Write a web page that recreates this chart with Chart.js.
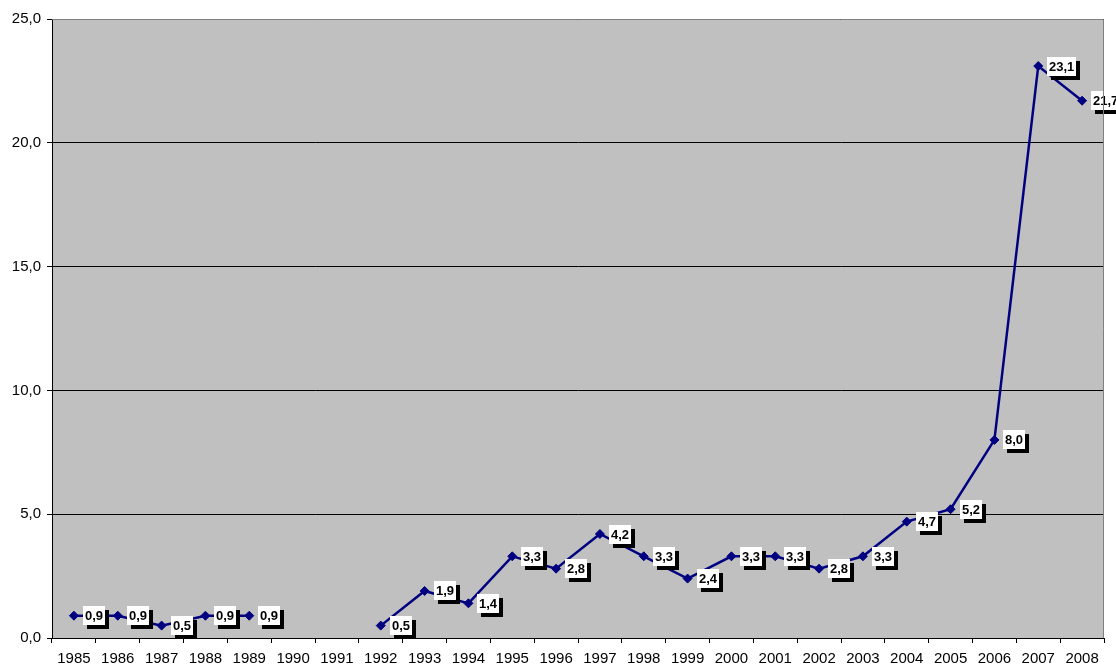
<!DOCTYPE html>
<html>
<head>
<meta charset="utf-8">
<script src="https://cdn.jsdelivr.net/npm/chart.js@4/dist/chart.umd.min.js"></script>
<style>
  html, body { margin: 0; padding: 0; background: #fff; }
  #wrap { width: 1116px; height: 667px; }
</style>
</head>
<body>
<div id="wrap"><canvas id="chart"></canvas></div>
<script>
// years and values (1990/1991 have no data)
const years = ["1985", "1986", "1987", "1988", "1989", "1990", "1991", "1992", "1993", "1994",
  "1995", "1996", "1997", "1998", "1999", "2000", "2001", "2002", "2003", "2004",
  "2005", "2006", "2007", "2008"];
const values = [0.9, 0.9, 0.5, 0.9, 0.9, null, null, 0.5, 1.9, 1.4,
  3.3, 2.8, 4.2, 3.3, 2.4, 3.3, 3.3, 2.8, 3.3, 4.7,
  5.2, 8.0, 23.1, 21.7];
const yTicks = [0, 5, 10, 15, 20, 25];

const fmt = (v) => v.toFixed(1).replace(".", ",");
const FONT = "Arial, 'Liberation Sans', sans-serif";

// grey plot area like the old spreadsheet charts
const plotBg = {
  id: "plotBg",
  beforeDraw(chart) {
    const { ctx, chartArea: a } = chart;
    ctx.save();
    ctx.fillStyle = "#c0c0c0";
    ctx.fillRect(a.left, a.top, a.right - a.left, a.bottom - a.top);
    ctx.restore();
  },
  afterDraw(chart) {
    const { ctx, chartArea: a } = chart;
    ctx.save();
    ctx.strokeStyle = "#808080";
    ctx.lineWidth = 1;
    ctx.beginPath();
    ctx.moveTo(a.left, a.top + 0.5);
    ctx.lineTo(a.right - 0.5, a.top + 0.5);
    ctx.lineTo(a.right - 0.5, a.bottom);
    ctx.stroke();
    ctx.restore();
  },
};

// value boxes with a black drop shadow to the right of each point
const boxLabels = {
  id: "boxLabels",
  afterDatasetsDraw(chart) {
    const { ctx } = chart;
    const meta = chart.getDatasetMeta(0);
    ctx.save();
    ctx.font = "bold 13px " + FONT;
    ctx.textBaseline = "middle";
    meta.data.forEach((pt, i) => {
      const v = values[i];
      if (v === null || v === undefined) return;
      const txt = fmt(v);
      const w = Math.round(ctx.measureText(txt).width + 4);
      const h = 19;
      const x = Math.round(pt.x + 9);
      const y = Math.round(pt.y - h / 2);
      ctx.fillStyle = "#000";
      ctx.fillRect(x + 4, y + 4, w, h);
      ctx.fillStyle = "#fff";
      ctx.fillRect(x, y, w, h);
      ctx.fillStyle = "#000";
      ctx.fillText(txt, x + 2, y + h / 2 + 1);
    });
    ctx.restore();
  },
};

new Chart(document.getElementById("chart"), {
  type: "line",
  data: {
    labels: years,
    datasets: [{
      data: values,
      borderColor: "#000080",
      backgroundColor: "#000080",
      borderWidth: 2.5,
      pointStyle: "rectRot",
      pointRadius: 4.5,
      pointBorderWidth: 1,
      spanGaps: false,
      tension: 0,
    }],
  },
  options: {
    responsive: true,
    maintainAspectRatio: false,
    animation: false,
    layout: { padding: { top: 19, right: 12, left: 0, bottom: 0 } },
    plugins: { legend: { display: false }, tooltip: { enabled: false } },
    scales: {
      x: {
        offset: true,
        grid: {
          offset: true,
          drawOnChartArea: false,
          color: "#000",
          tickLength: 5,
        },
        border: { color: "#000", width: 1 },
        ticks: {
          color: "#000",
          font: { family: FONT, size: 15 },
          maxRotation: 0,
          autoSkip: false,
          padding: 7,
        },
        afterFit(s) { s.height = 29; },
      },
      y: {
        min: 0,
        max: 25,
        afterBuildTicks(s) { s.ticks = yTicks.map((v) => ({ value: v })); },
        grid: { color: "#000", tickLength: 5 },
        border: { color: "#000", width: 1 },
        ticks: {
          color: "#000",
          font: { family: FONT, size: 15 },
          padding: 6,
          callback: (v) => fmt(v),
        },
        afterFit(s) { s.width = 52; },
      },
    },
  },
  plugins: [plotBg, boxLabels],
});
</script>
</body>
</html>
